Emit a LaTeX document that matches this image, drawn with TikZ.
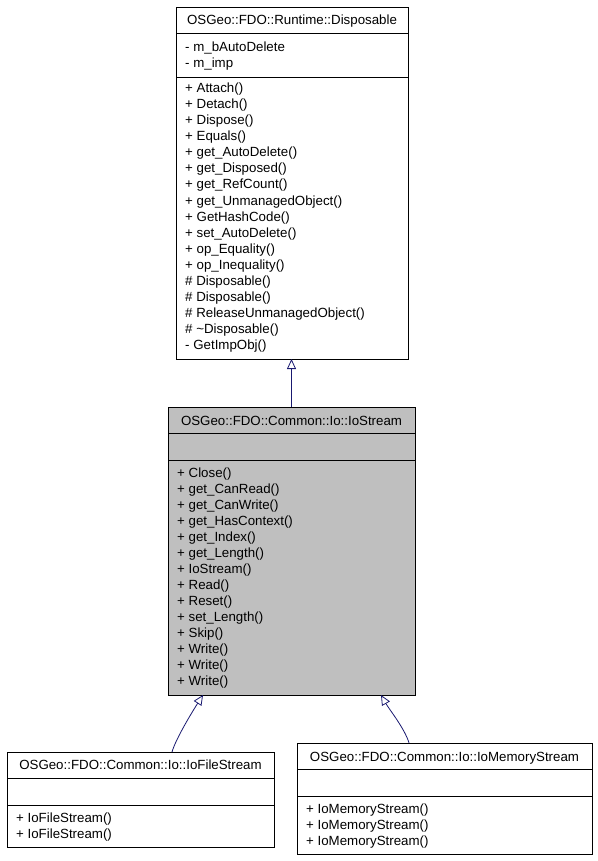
\documentclass[tikz,border=0pt]{standalone}
\usepackage{fontspec}
\setmainfont{Liberation Sans}
\usetikzlibrary{arrows.meta,calc}

\definecolor{edgeblue}{HTML}{191970}
\definecolor{classgray}{HTML}{BFBFBF}
\newcommand\umlfont{\fontsize{13.3}{16}\selectfont}

\tikzset{
  classbox/.style={draw=black, line width=0.9pt, anchor=north west, inner sep=0pt, outer sep=0pt},
  sepline/.style={draw=black, line width=0.9pt},
  titletext/.style={anchor=base, inner sep=0pt, font=\umlfont},
  rowtext/.style={anchor=base west, inner sep=0pt, font=\umlfont},
  inherit/.style={draw=edgeblue, line width=0.8pt,
    -{Triangle[open, length=10pt, width=9pt]}}
}

\begin{document}
\begin{tikzpicture}[x=1pt, y=-1pt]
\useasboundingbox (0,0) rectangle (597,861);

% ---- OSGeo::FDO::Runtime::Disposable ----
\node[classbox, minimum width=232pt, minimum height=352pt] (disp) at (176,7) {};
\draw[sepline] (disp.west |- 0,33) -- (disp.east |- 0,33);
\draw[sepline] (disp.west |- 0,77) -- (disp.east |- 0,77);
\node[titletext] (disp-title) at ($(disp.north)+(0,18)$) {OSGeo::FDO::Runtime::Disposable};
\foreach \t [count=\i] in {- m\_bAutoDelete, - m\_imp}
  \node[rowtext] (disp-a\i) at (185, 52+16*\i-16) {\t};
\foreach \t [count=\i] in {+ Attach(), + Detach(), + Dispose(), + Equals(),
    + get\_AutoDelete(), + get\_Disposed(), + get\_RefCount(),
    + get\_UnmanagedObject(), + GetHashCode(), + set\_AutoDelete(),
    + op\_Equality(), + op\_Inequality(), \# Disposable(), \# Disposable(),
    \# ReleaseUnmanagedObject(), {\# \textasciitilde Disposable()}, - GetImpObj()}
  \node[rowtext] (disp-m\i) at (185, 93+16*\i-16) {\t};

% ---- OSGeo::FDO::Common::Io::IoStream ----
\node[classbox, fill=classgray, minimum width=247pt, minimum height=288pt] (ios) at (168,407) {};
\draw[sepline] (ios.west |- 0,433) -- (ios.east |- 0,433);
\draw[sepline] (ios.west |- 0,460) -- (ios.east |- 0,460);
\node[titletext] (ios-title) at ($(ios.north)+(0,18)$) {OSGeo::FDO::Common::Io::IoStream};
\foreach \t [count=\i] in {+ Close(), + get\_CanRead(), + get\_CanWrite(),
    + get\_HasContext(), + get\_Index(), + get\_Length(), + IoStream(),
    + Read(), + Reset(), + set\_Length(), + Skip(), + Write(), + Write(), + Write()}
  \node[rowtext] (ios-m\i) at (177, 477+16*\i-16) {\t};

% ---- OSGeo::FDO::Common::Io::IoFileStream ----
\node[classbox, minimum width=267pt, minimum height=95pt] (ifs) at (7,752) {};
\draw[sepline] (ifs.west |- 0,778) -- (ifs.east |- 0,778);
\draw[sepline] (ifs.west |- 0,805) -- (ifs.east |- 0,805);
\node[titletext] (ifs-title) at ($(ifs.north)+(0,17)$) {OSGeo::FDO::Common::Io::IoFileStream};
\foreach \t [count=\i] in {+ IoFileStream(), + IoFileStream()}
  \node[rowtext] (ifs-m\i) at (16, 822+16*\i-16) {\t};

% ---- OSGeo::FDO::Common::Io::IoMemoryStream ----
\node[classbox, minimum width=295pt, minimum height=111pt] (ims) at (297,743) {};
\draw[sepline] (ims.west |- 0,769) -- (ims.east |- 0,769);
\draw[sepline] (ims.west |- 0,796) -- (ims.east |- 0,796);
\node[titletext] (ims-title) at ($(ims.north)+(0,18)$) {OSGeo::FDO::Common::Io::IoMemoryStream};
\foreach \t [count=\i] in {+ IoMemoryStream(), + IoMemoryStream(), + IoMemoryStream()}
  \node[rowtext] (ims-m\i) at (306, 813+16*\i-16) {\t};

% ---- inheritance edges ----
\draw[inherit] (ios.north) -- (ios.north |- disp.south);
\draw[inherit] ($(ifs.north)+(31.5,0)$) .. controls +(4,-14) and +(-9,14) .. ($(ios.south)+(-88.5,0)$);
\draw[inherit] ($(ims.north)+(-35.5,0)$) .. controls +(-4,-14) and +(8,14) .. ($(ios.south)+(89.5,0)$);
\end{tikzpicture}
\end{document}
